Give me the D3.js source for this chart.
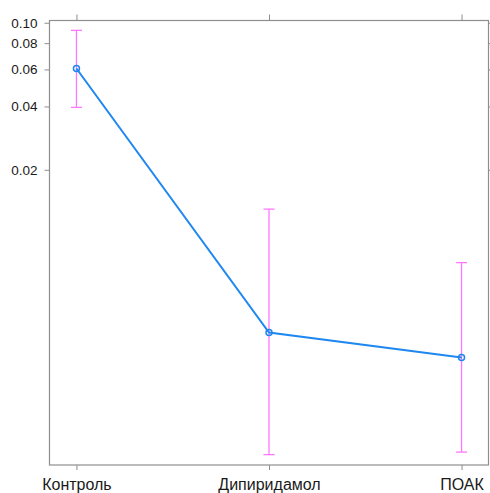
<!DOCTYPE html>
<html>
<head>
<meta charset="utf-8">
<script src="https://cdn.jsdelivr.net/npm/d3@7"></script>
<style>
html,body{margin:0;padding:0;background:#fff;}
svg{display:block;}
text{font-family:"Liberation Sans",Arial,sans-serif;fill:#1a1a1a;}
</style>
</head>
<body>
<svg id="chart" width="490" height="493"></svg>
<script>
const categories = ["Контроль", "Дипиридамол", "ПОАК"];
const means = [0.0606, 0.00337, 0.00256];
const upper = [0.0920, 0.0130, 0.00724];
const lower = [0.0396, 0.000885, 0.00091];
const yTicks = [0.02, 0.04, 0.06, 0.08, 0.10];
const yTickLabels = ["0.02", "0.04", "0.06", "0.08", "0.10"];

const svg = d3.select("#chart");
const pLeft = 49.5, pRight = 488.5, pTop = 20.5, pBottom = 465;

const x = d3.scalePoint().domain(categories).range([pLeft, pRight]).padding(0.14);
const y = d3.scaleLog().domain([0.00079, 0.1025]).range([pBottom, pTop]);

const frameColor = "#8e8e8e";

// Left axis (labels)
const gL = svg.append("g").attr("transform", `translate(${pLeft},0)`)
  .call(d3.axisLeft(y).tickValues(yTicks).tickFormat((d, i) => yTickLabels[i]).tickSize(5).tickPadding(7));
gL.select(".domain").remove();
gL.selectAll(".tick line").attr("stroke", frameColor);
gL.selectAll(".tick text").style("font-size", "13.5px").attr("fill", "#1a1a1a");

// Right axis ticks (no labels)
const gR = svg.append("g").attr("transform", `translate(${pRight},0)`)
  .call(d3.axisRight(y).tickValues(yTicks).tickFormat("").tickSize(5));
gR.select(".domain").remove();
gR.selectAll(".tick line").attr("stroke", frameColor);

// Bottom axis
const gB = svg.append("g").attr("transform", `translate(0,${pBottom})`)
  .call(d3.axisBottom(x).tickSize(5).tickPadding(9));
gB.select(".domain").remove();
gB.selectAll(".tick line").attr("stroke", frameColor);
gB.selectAll(".tick text").style("font-size", "16px").attr("fill", "#1a1a1a");

// Top axis ticks
const gT = svg.append("g").attr("transform", `translate(0,${pTop})`)
  .call(d3.axisTop(x).tickFormat("").tickSize(6));
gT.select(".domain").remove();
gT.selectAll(".tick line").attr("stroke", frameColor);

// Frame
svg.append("rect")
  .attr("x", pLeft).attr("y", pTop)
  .attr("width", pRight - pLeft).attr("height", pBottom - pTop)
  .attr("fill", "none").attr("stroke", frameColor).attr("stroke-width", 1.2);

const data = categories.map((c, i) => ({c, m: means[i], lo: lower[i], hi: upper[i]}));

// Error bars
const errColor = "#ff77ff";
const eb = svg.append("g");
data.forEach(d => {
  const cx = x(d.c);
  eb.append("line").attr("x1", cx).attr("x2", cx).attr("y1", y(d.hi)).attr("y2", y(d.lo))
    .attr("stroke", errColor).attr("stroke-width", 1.3);
  [d.hi, d.lo].forEach(v => {
    eb.append("line").attr("x1", cx - 5.5).attr("x2", cx + 5.5).attr("y1", y(v)).attr("y2", y(v))
      .attr("stroke", errColor).attr("stroke-width", 1.3);
  });
});

// Line
const lineColor = "#1e88f0";
svg.append("path").datum(data)
  .attr("d", d3.line().x(d => x(d.c)).y(d => y(d.m)))
  .attr("fill", "none").attr("stroke", lineColor).attr("stroke-width", 2);

// Points
svg.append("g").selectAll("circle").data(data).join("circle")
  .attr("cx", d => x(d.c)).attr("cy", d => y(d.m)).attr("r", 3)
  .attr("fill", "none").attr("stroke", lineColor).attr("stroke-width", 1.5);
</script>
</body>
</html>
